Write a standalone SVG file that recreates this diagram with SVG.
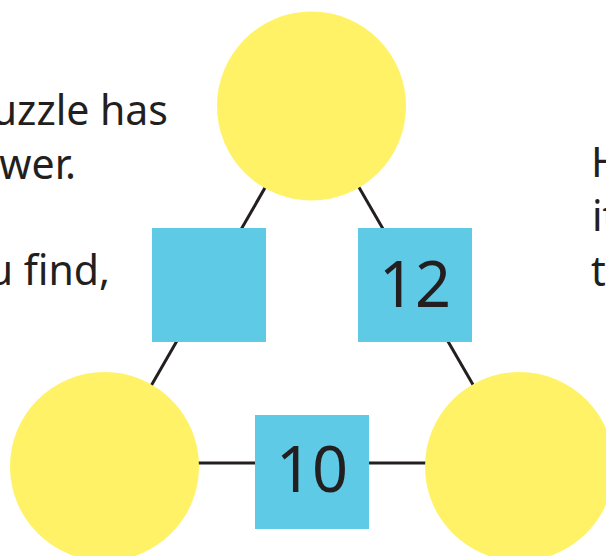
<svg xmlns="http://www.w3.org/2000/svg" width="606" height="556" viewBox="0 0 606 556">
  <style>
    .circ { fill: #FFF266; }
    .sq { fill: #5FCAE5; }
    .ln { stroke: #231F20; stroke-width: 3; fill: none; }
    .txt { font-family: "Noto Sans", "Open Sans", sans-serif; font-size: 41px; fill: #231F20; }
    .num { font-family: "Noto Sans", "Open Sans", sans-serif; font-size: 63px; fill: #231F20; text-anchor: middle; }
  </style>
  <rect width="606" height="556" fill="#ffffff"/>
  <g id="connectors">
    <line class="ln" x1="312" y1="106" x2="105" y2="466"/>
    <line class="ln" x1="312" y1="106" x2="520" y2="466"/>
    <line class="ln" x1="105" y1="463" x2="520" y2="463"/>
  </g>
  <g id="circle-top"><circle class="circ" cx="311.5" cy="106" r="94.5"/></g>
  <g id="circle-left"><circle class="circ" cx="104.5" cy="466.5" r="94.5"/></g>
  <g id="circle-right"><circle class="circ" cx="519.5" cy="466.5" r="94.5"/></g>
  <g id="square-left"><rect class="sq" x="152" y="228" width="114" height="114"/></g>
  <g id="square-right"><rect class="sq" x="358" y="228" width="114" height="114"/><text class="num" x="415" y="307">12</text></g>
  <g id="square-bottom"><rect class="sq" x="255" y="415" width="114" height="114"/><text class="num" x="312" y="492">10</text></g>
  <g id="text-left">
    <text class="txt" x="168" y="125" text-anchor="end">uzzle has</text>
    <text class="txt" x="76" y="179" text-anchor="end">wer.</text>
    <text class="txt" x="110" y="285" text-anchor="end">u find,</text>
  </g>
  <g id="text-right">
    <text class="txt" x="591" y="177">H</text>
    <text class="txt" x="592" y="231">it</text>
    <text class="txt" x="591" y="286">t</text>
  </g>
</svg>
